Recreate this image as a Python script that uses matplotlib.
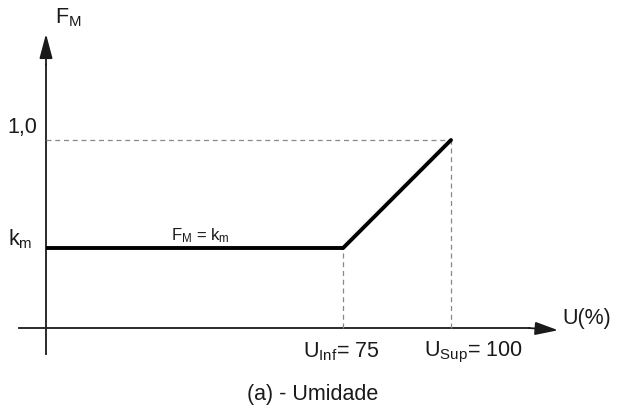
import matplotlib.pyplot as plt

plt.rcParams['font.family'] = ['Liberation Sans', 'DejaVu Sans']
plt.rcParams['mathtext.fontset'] = 'custom'
plt.rcParams['mathtext.rm'] = 'Liberation Sans'
plt.rcParams['mathtext.it'] = 'Liberation Sans'

# moisture factor curve: constant km up to U_inf, then linear up to 1.0 at U_sup
u_inf = 75
u_sup = 100
k_m = 0.425
f_max = 1.0
curve_u = [u_inf, u_sup]

fig = plt.figure(figsize=(6.37, 4.12), dpi=100)
ax = fig.add_axes([0, 0, 1, 1])
ax.set_xlim(-4.4, 143.06)
ax.set_ylim(-0.447, 1.745)
ax.axis('off')

u0 = 6.25  # where the vertical axis is drawn
ink = '#1a1a1a'

# axes with arrow heads
ax.plot([u0, u0], [-0.14, 1.4], color=ink, lw=1.3)
ax.annotate('', xy=(u0, 1.565), xytext=(u0, 1.40),
            arrowprops=dict(arrowstyle='-|>,head_length=1.5,head_width=0.4',
                            color=ink, lw=1.3, shrinkA=0, shrinkB=0))
ax.plot([0, 118], [0, 0], color=ink, lw=1.3)
ax.annotate('', xy=(124.8, -0.012), xytext=(118, 0),
            arrowprops=dict(arrowstyle='-|>,head_length=1.4,head_width=0.4',
                            color=ink, lw=1.3, shrinkA=0, shrinkB=0))

# dashed guides
ax.plot([u0, u_sup], [f_max, f_max], color='#888888', lw=0.9, ls=(0, (4, 3)))
ax.plot([u_inf, u_inf], [0, k_m], color='#888888', lw=0.9, ls=(0, (4, 3)))
ax.plot([u_sup, u_sup], [0, f_max], color='#888888', lw=0.9, ls=(0, (4, 3)))

# the curve itself
ax.plot([u0, u_inf], [k_m, k_m], color='black', lw=2.8, solid_capstyle='butt')
ax.plot(curve_u, [k_m, f_max], color='black', lw=2.8, solid_capstyle='round')

# labels
fs = 15.5
ax.text(8.3, 1.65, r'F$_{\mathregular{M}}$', fontsize=fs, color=ink, va='center', ha='left')
ax.text(-2.6, 1.064, '1,0', fontsize=fs, color=ink, va='center', ha='left')
ax.text(-2.6, 0.475, r'k$_{\mathregular{m}}$', fontsize=fs, color=ink, va='center', ha='left')
ax.text(35.3, 0.49, r'F$_{\mathregular{M}}$ = k$_{\mathregular{m}}$', fontsize=12, color=ink,
        va='center', ha='left')
ax.text(125.7, 0.053, 'U(%)', fontsize=fs, color=ink, va='center', ha='left')
ax.text(65.7, -0.128, r'U$_{\mathregular{Inf}}$= %d' % u_inf, fontsize=fs, color=ink,
        va='center', ha='left')
ax.text(93.75, -0.128, r'U$_{\mathregular{Sup}}$= %d' % u_sup, fontsize=fs, color=ink,
        va='center', ha='left')
ax.text(52.8, -0.356, '(a) - Umidade', fontsize=fs, color=ink, va='center', ha='left')

fig.savefig('out.png', dpi=100)
